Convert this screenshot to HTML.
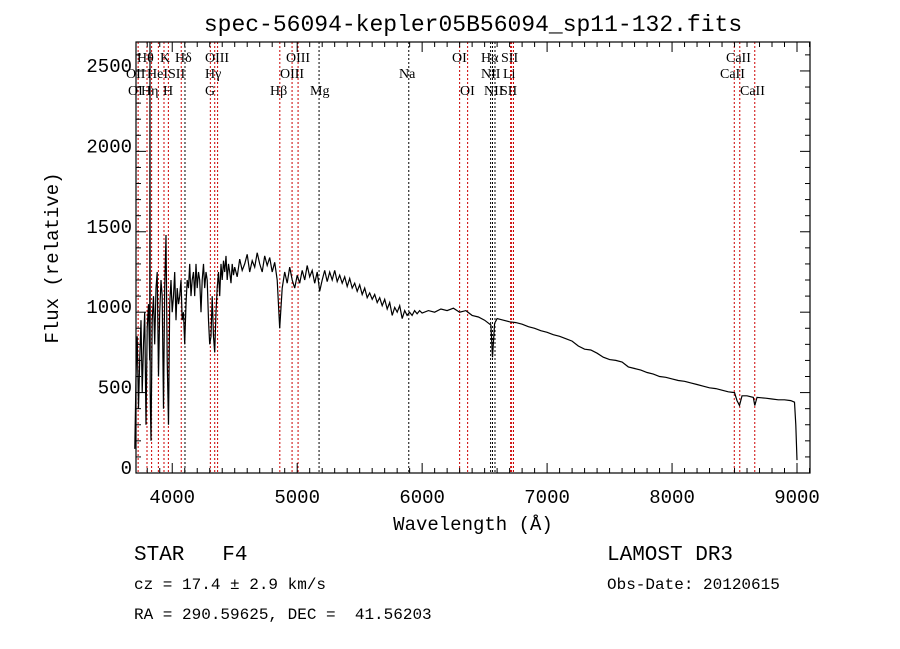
<!DOCTYPE html>
<html><head><meta charset="utf-8"><style>
body{margin:0;background:#fff;}
svg{display:block;}
.t{font-family:"Liberation Mono",monospace;fill:#000;white-space:pre;}
.s{font-family:"Liberation Serif",serif;font-size:14px;fill:#000;}
</style></head><body>
<svg id="c" width="900" height="649" xmlns="http://www.w3.org/2000/svg" xml:space="preserve">
<rect width="900" height="649" fill="#fff"/>
<text class="t" x="473" y="31" font-size="23" text-anchor="middle">spec-56094-kepler05B56094_sp11-132.fits</text>
<text class="t" x="473" y="530" font-size="19" text-anchor="middle">Wavelength (Å)</text>
<text class="t" x="58" y="258" font-size="19" text-anchor="middle" transform="rotate(-90 58 258)">Flux (relative)</text>
<text class="t" x="134" y="560" font-size="21">STAR   F4</text>
<text class="t" x="134" y="589" font-size="16">cz = 17.4 ± 2.9 km/s</text>
<text class="t" x="134" y="619" font-size="16">RA = 290.59625, DEC =  41.56203</text>
<text class="t" x="607" y="560" font-size="21">LAMOST DR3</text>
<text class="t" x="607" y="589" font-size="16">Obs-Date: 20120615</text>
<g id="plot"></g>
</svg>
<script>
const wave=[3700,3710,3720,3730,3740,3750,3760,3770,3780,3790,3800,3810,3820,3822,3824,3830,3840,3850,3860,3870,3880,3890,3900,3910,3920,3930,3940,3950,3960,3970,3980,3990,4000,4010,4020,4030,4040,4050,4060,4070,4080,4090,4100,4110,4120,4130,4140,4150,4160,4170,4180,4190,4200,4210,4220,4230,4240,4250,4260,4270,4280,4290,4300,4310,4320,4330,4340,4350,4360,4370,4380,4390,4400,4410,4420,4430,4440,4450,4460,4470,4480,4490,4500,
4520,4540,4560,4580,4600,4620,4640,4660,4680,4700,4720,4740,4760,4780,4800,4820,4840,4860,4880,4900,4920,4940,4960,4980,5000,5020,5040,5060,5080,5100,5120,5140,5160,5180,5200,5220,5240,5260,5280,5300,5320,5340,5360,5380,5400,5420,5440,5460,5480,5500,5520,5540,5560,5580,5600,5620,5640,5660,5680,5700,5720,5740,5760,5780,5800,5820,5840,5860,5880,5900,5920,5940,5960,5980,6000,
6050,6100,6150,6200,6250,6300,6350,6400,6450,6500,6550,6563,6580,6600,6650,6700,6750,6800,6850,6900,6950,7000,7050,7100,7150,7200,7250,7300,7350,7400,7450,7500,7550,7600,7650,7700,7750,7800,7850,7900,7950,8000,8050,8100,8150,8200,8250,8300,8350,8400,8450,8500,8520,8540,8560,8600,8650,8662,8680,8750,8800,8850,8900,8950,8980,8990,9000];
const flux=[150,600,850,400,700,950,500,800,1000,300,900,1050,700,2700,500,200,950,1100,800,1150,1250,600,1000,1200,1100,400,1150,1480,700,300,1050,1200,1000,1100,1250,950,1150,1050,1100,1200,950,1000,800,1050,1200,1150,1300,1100,1200,1250,1100,1300,1150,1250,1200,1000,1200,1300,1150,1250,1200,950,800,850,1100,850,750,1000,1150,1250,1100,1300,1200,1320,1250,1350,1200,1300,1250,1180,1300,1230,1280,
1220,1330,1260,1300,1360,1250,1320,1280,1370,1300,1250,1350,1290,1340,1250,1310,1200,900,1150,1250,1180,1280,1200,1150,1230,1180,1260,1200,1290,1220,1260,1180,1250,1130,1200,1260,1190,1250,1200,1260,1190,1230,1180,1220,1160,1210,1150,1180,1130,1170,1110,1150,1090,1120,1080,1110,1060,1090,1040,1080,1020,1060,980,1030,1000,1040,960,1010,980,1000,980,1010,990,1010,995,
1010,1000,1020,1010,1025,1000,1010,980,970,950,920,720,930,960,950,940,935,925,910,900,885,875,860,850,835,820,790,770,765,745,720,705,700,690,660,650,640,625,615,600,595,585,575,570,560,550,540,530,525,515,505,500,450,420,480,480,470,420,470,465,460,455,455,450,440,300,80];
const lineWaves=[3727,3798,3835,3889,3934,3969,4072,4102,4305,4340,4363,4861,4959,5007,5175,5893,6300,6364,6548,6563,6583,6708,6716,6731,8498,8542,8662];
const lineBlack=[0,0,0,0,0,0,0,1,0,0,0,0,0,0,1,1,0,0,1,1,1,0,0,0,0,0,0];
const xTicks=[4000,5000,6000,7000,8000,9000];
const yTicks=[0,500,1000,1500,2000,2500];
const labels=[["Hθ",137,62],["K",160,62],["Hδ",175,62],["OIII",205,62],["OIII",286,62],["OI",452,62],["Hα",481,62],["SII",501,62],["CaII",726,62],
["OII",126,78],["HeI",147,78],["SII",168,78],["Hγ",205,78],["OIII",280,78],["Na",399,78],["NII",481,78],["Li",503,78],["CaII",720,78],
["OI",128,95],["Hη",141,95],["H",163,95],["G",205,95],["Hβ",270,95],["Mg",310,95],["OI",460,95],["NII",484,95],["SII",500,95],["CaII",740,95]];
const L=136,R=810,T=42,B=473,X0=3710,X1=9104,Y0=0,Y1=2680;
const xs=w=>L+(w-X0)/(X1-X0)*(R-L);
const ys=v=>B-(Math.min(v,Y1)-Y0)/(Y1-Y0)*(B-T);
const NS="http://www.w3.org/2000/svg",g=document.getElementById('plot');
function mk(t,a){const e=document.createElementNS(NS,t);for(const k in a)e.setAttribute(k,a[k]);g.appendChild(e);return e;}
lineWaves.forEach((w,i)=>{const e=mk('line',{x1:xs(w),x2:xs(w),y1:T,y2:B,stroke:lineBlack[i]?'#000':'#c00','stroke-width':1,'stroke-dasharray':'2,2'});

});
labels.forEach(l=>{const e=mk('text',{x:l[1],y:l[2],class:'s'});e.textContent=l[0];

});
let d='';wave.forEach((w,i)=>{d+=(i?'L':'M')+xs(w).toFixed(1)+','+ys(flux[i]).toFixed(1);});
const p=mk('path',{d:d,fill:'none',stroke:'#000','stroke-width':1.2});


const fr=mk('rect',{x:L,y:T,width:R-L,height:B-T,fill:'none',stroke:'#000','stroke-width':1.2});


for(let w=3800;w<=9100;w+=100){const maj=w%1000===0;const len=maj?10:5;
mk('line',{x1:xs(w),x2:xs(w),y1:B,y2:B-len,stroke:'#000'});mk('line',{x1:xs(w),x2:xs(w),y1:T,y2:T+len,stroke:'#000'});}
xTicks.forEach(w=>{const e=mk('text',{x:xs(w),y:B+30,class:'t','font-size':19,'text-anchor':'middle'});e.textContent=w;

});
for(let v=0;v<=2600;v+=100){const len=v%500===0?10:5;
mk('line',{x1:L,x2:L+len,y1:ys(v),y2:ys(v),stroke:'#000'});mk('line',{x1:R,x2:R-len,y1:ys(v),y2:ys(v),stroke:'#000'});}
yTicks.forEach(v=>{const e=mk('text',{x:L-4,y:ys(v)+1,class:'t','font-size':19,'text-anchor':'end'});e.textContent=v;

});
</script>
</body></html>
